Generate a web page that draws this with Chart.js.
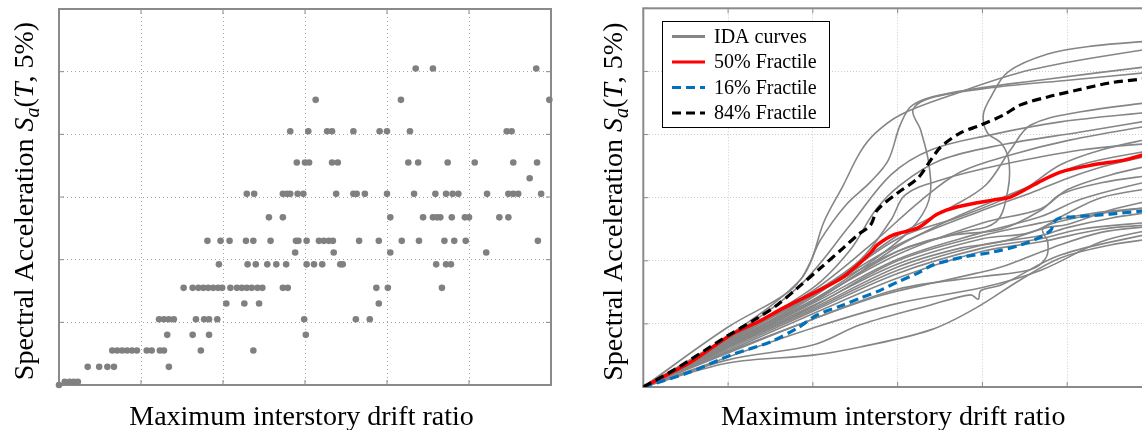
<!DOCTYPE html>
<html>
<head>
<meta charset="utf-8">
<title>IDA results</title>
<script src="https://cdn.jsdelivr.net/npm/chart.js@4.4.1/dist/chart.umd.min.js"></script>
<style>
  html, body { margin: 0; padding: 0; background: #fff; overflow: hidden; }
  body { position: relative; width: 1142px; height: 430px; }
  canvas { position: absolute; top: 0; }
  #pointsChart { left: 0; }
  #curvesChart { left: 580px; }
</style>
</head>
<body>
<canvas id="pointsChart" width="580" height="430"></canvas>
<canvas id="curvesChart" width="600" height="430"></canvas>
<script>
// axes (tick labels are not shown in the figure): drift in %, Sa in g
const driftTicks = [0, 1, 2, 3, 4, 5, 6];
const saTicks = [0, 0.2, 0.4, 0.6, 0.8, 1.0, 1.2];

// left panel: IDA points, drifts listed per Sa level
const saLevels = [0, 0.01, 0.058, 0.11, 0.16, 0.21, 0.26, 0.31, 0.385, 0.423, 0.46, 0.535, 0.61, 0.66, 0.71, 0.81, 0.91, 1.01];
const driftsAtLevel = [
  [0],
  [0.07, 0.13, 0.18, 0.23],
  [0.35, 0.49, 0.59, 0.67, 1.34],
  [0.65, 0.71, 0.77, 0.83, 0.89, 0.95, 1.07, 1.13, 1.23, 1.28, 1.73, 2.37],
  [1.32, 1.63, 1.83, 3.01],
  [1.22, 1.28, 1.34, 1.40, 1.67, 1.77, 1.83, 1.93, 2.99, 3.62, 3.79],
  [2.04, 2.26, 2.44, 3.90],
  [1.52, 1.63, 1.70, 1.76, 1.82, 1.88, 1.94, 1.99, 2.09, 2.17, 2.23, 2.29, 2.35, 2.42, 2.48, 2.73, 2.79, 3.87, 4.01, 4.67],
  [1.95, 2.30, 2.40, 2.54, 2.65, 2.77, 3.02, 3.11, 3.21, 3.43, 3.46, 4.60, 4.72, 4.78],
  [2.88, 3.35, 4.04, 5.21],
  [1.81, 1.97, 2.08, 2.28, 2.37, 2.58, 2.89, 2.92, 3.02, 3.17, 3.23, 3.29, 3.34, 3.66, 3.90, 4.18, 4.39, 4.70, 4.82, 4.96, 5.84],
  [2.56, 2.73, 4.04, 4.44, 4.56, 4.61, 4.65, 4.79, 4.95, 5.00, 5.37, 5.48],
  [2.29, 2.38, 2.73, 2.78, 2.82, 2.91, 2.98, 3.38, 3.59, 3.63, 3.73, 4.00, 4.33, 4.59, 4.72, 4.80, 4.87, 5.22, 5.48, 5.54, 5.60, 5.88],
  [5.74],
  [2.90, 3.00, 3.05, 3.33, 3.40, 4.26, 4.38, 4.74, 5.07, 5.54, 5.83],
  [2.82, 3.04, 3.27, 3.33, 3.59, 3.91, 4.00, 4.28, 5.46, 5.52],
  [3.13, 4.17, 5.98],
  [4.35, 4.56, 5.82]
];

// right panel: IDA curves, [drift %, Sa]
const ida01 = [[0,0],[1.0,0.143],[2.0,0.292],[3.0,0.430],[3.74,0.490],[4.16,0.523],[4.30,0.624],[4.31,0.719],[4.22,0.773],[4.06,0.805],[4.01,0.862],[4.10,0.919],[4.30,0.998],[4.77,1.055],[5.31,1.081],[6.01,1.097]];
const ida02 = [[0,0],[1.0,0.190],[1.74,0.307],[1.97,0.396],[2.13,0.523],[2.36,0.640],[2.56,0.745],[2.74,0.805],[3.03,0.862],[3.57,0.919],[4.57,1.005],[6.01,1.074]];
const ida03 = [[0,0],[1.0,0.162],[1.85,0.339],[2.09,0.466],[2.39,0.577],[2.68,0.650],[2.89,0.719],[3.03,0.830],[3.18,0.894],[3.63,0.932],[4.69,0.973],[6.01,1.017]];
const ida04 = [[0,0],[1.0,0.133],[2.0,0.276],[2.68,0.396],[3.15,0.498],[3.37,0.593],[3.37,0.704],[3.27,0.815],[3.18,0.878],[3.39,0.916],[4.10,0.948],[5.04,0.973],[6.01,0.998]];
const ida05 = [[0,0],[1.0,0.139],[2.0,0.290],[3.0,0.480],[3.63,0.570],[4.04,0.640],[4.33,0.751],[4.57,0.830],[5.16,0.872],[6.01,0.903]];
const ida06 = [[0,0],[1.0,0.155],[1.85,0.323],[2.44,0.513],[2.92,0.672],[3.39,0.751],[4.10,0.799],[4.92,0.840],[6.01,0.872]];
const ida07 = [[0,0],[1.0,0.149],[2.0,0.305],[2.68,0.450],[3.27,0.590],[3.74,0.681],[4.33,0.735],[5.04,0.783],[6.01,0.830]];
const ida08 = [[0,0],[1.0,0.135],[2.0,0.285],[3.0,0.470],[3.74,0.540],[4.45,0.620],[4.92,0.704],[5.40,0.751],[6.01,0.789]];
const ida09 = [[0,0],[1.0,0.150],[2.0,0.290],[3.0,0.450],[4.0,0.560],[4.57,0.615],[5.04,0.665],[5.51,0.705],[6.01,0.735]];
const ida10 = [[0,0],[1.0,0.140],[2.0,0.275],[3.0,0.420],[4.0,0.520],[4.69,0.565],[5.0,0.625],[5.51,0.672],[6.01,0.704]];
const ida11 = [[0,0],[1.0,0.135],[2.0,0.265],[3.0,0.405],[4.0,0.490],[4.69,0.540],[5.16,0.595],[6.01,0.656]];
const ida12 = [[0,0],[1.0,0.130],[2.0,0.258],[3.0,0.390],[4.0,0.470],[4.57,0.490],[5.0,0.550],[5.40,0.600],[6.01,0.631]];
const ida13 = [[0,0],[1.0,0.128],[2.0,0.250],[3.0,0.380],[3.74,0.440],[4.22,0.460],[4.75,0.505],[5.0,0.515],[5.51,0.561],[6.01,0.593]];
const ida14 = [[0,0],[1.0,0.125],[2.0,0.245],[3.0,0.370],[4.0,0.450],[4.69,0.480],[5.0,0.505],[5.51,0.535],[6.01,0.555]];
const ida15 = [[0,0],[1.0,0.120],[2.0,0.240],[3.0,0.360],[4.0,0.440],[4.69,0.470],[5.16,0.500],[6.01,0.523]];
const ida16 = [[0,0],[1.0,0.112],[2.0,0.215],[3.0,0.310],[4.0,0.350],[4.57,0.372],[4.75,0.410],[4.77,0.460],[4.71,0.500],[4.92,0.525],[5.40,0.550],[6.01,0.570]];
const ida17 = [[0,0],[1.0,0.115],[2.0,0.232],[3.0,0.345],[4.0,0.430],[4.69,0.460],[5.40,0.500],[6.01,0.515]];
const ida18 = [[0,0],[1.0,0.108],[2.0,0.215],[2.80,0.290],[3.51,0.335],[3.92,0.360],[4.22,0.380],[4.81,0.440],[5.40,0.490],[6.01,0.510]];
const ida19 = [[0,0],[1.0,0.095],[2.0,0.187],[3.0,0.265],[4.0,0.315],[4.69,0.370],[5.40,0.460],[6.01,0.500]];
const ida20 = [[0,0],[1.0,0.086],[2.0,0.133],[2.56,0.197],[3.39,0.260],[3.86,0.292],[3.95,0.278],[3.98,0.305],[4.22,0.323],[4.92,0.418],[6.01,0.488]];
const ida21 = [[0,0],[1.0,0.076],[2.0,0.101],[2.56,0.127],[3.39,0.181],[3.92,0.250],[4.45,0.340],[4.92,0.409],[5.51,0.450],[6.01,0.470]];
const ida22 = [[0,0],[1.0,0.125],[2.0,0.255],[3.0,0.400],[4.0,0.480],[4.69,0.520],[5.28,0.550],[6.01,0.570]];
const ida23 = [[0,0],[1.0,0.132],[2.0,0.270],[3.0,0.430],[3.63,0.480],[4.22,0.500],[4.69,0.560],[4.92,0.610],[5.40,0.647],[6.01,0.672]];
const ida24 = [[0,0],[1.0,0.130],[2.0,0.269],[2.56,0.365],[3.03,0.450],[3.74,0.545],[4.45,0.624],[5.16,0.704],[6.01,0.751]];
const ida25 = [[0,0],[1.0,0.146],[2.0,0.298],[2.56,0.403],[2.92,0.529],[3.09,0.609],[3.51,0.656],[4.22,0.704],[5.16,0.751],[6.01,0.773]];
const ida26 = [[0,0],[1.0,0.152],[2.0,0.314],[2.44,0.434],[2.74,0.561],[3.03,0.640],[3.51,0.719],[4.22,0.767],[5.16,0.808],[6.01,0.846]];

const frac50 = [[0,0],[0.56,0.079],[1.03,0.165],[1.35,0.206],[1.65,0.250],[1.89,0.282],[2.13,0.314],[2.36,0.349],[2.53,0.387],[2.68,0.425],[2.76,0.450],[2.95,0.482],[3.24,0.504],[3.47,0.548],[3.71,0.571],[4.13,0.593],[4.33,0.602],[4.65,0.647],[4.92,0.681],[5.31,0.704],[5.67,0.719],[5.89,0.735],[6.01,0.745]];
const frac16 = [[0,0],[0.56,0.048],[1.03,0.101],[1.50,0.143],[1.82,0.187],[2.05,0.228],[2.36,0.260],[2.56,0.282],[2.80,0.307],[3.00,0.333],[3.24,0.361],[3.42,0.387],[3.78,0.412],[4.13,0.428],[4.45,0.450],[4.69,0.476],[4.81,0.498],[4.84,0.523],[4.92,0.536],[5.08,0.539],[5.51,0.548],[5.89,0.558],[6.01,0.561]];
const frac84 = [[0,0],[0.40,0.060],[0.95,0.155],[1.35,0.219],[1.58,0.260],[1.82,0.314],[2.09,0.377],[2.36,0.441],[2.53,0.482],[2.68,0.513],[2.76,0.561],[3.00,0.615],[3.24,0.662],[3.39,0.719],[3.51,0.761],[3.74,0.805],[3.98,0.830],[4.25,0.862],[4.45,0.894],[4.77,0.919],[5.12,0.941],[5.51,0.964],[5.89,0.976],[6.01,0.979]];

const idaCurves = [ida01, ida02, ida03, ida04, ida05, ida06, ida07, ida08, ida09, ida10, ida11, ida12, ida13,
  ida14, ida15, ida16, ida17, ida18, ida19, ida20, ida21, ida22, ida23, ida24, ida25, ida26];

const serif = '"Liberation Serif", "Times New Roman", serif';
const xTitle = 'Maximum interstory drift ratio';
const yTitleParts = [
  { text: 'Spectral Acceleration ', font: '28px ' + serif },
  { text: 'S', font: 'italic 28px ' + serif },
  { text: 'a', font: 'italic 20px ' + serif, dy: 6 },
  { text: '(', font: '28px ' + serif },
  { text: 'T', font: 'italic 28px ' + serif },
  { text: ', 5%)', font: '28px ' + serif }
];

const toXY = pts => pts.map(([x, y]) => ({ x, y }));

// matlab-like box with inward ticks
const boxAndTicks = {
  id: 'boxAndTicks',
  beforeDatasetsDraw(chart, args, opts) {
    const { ctx, chartArea: a, scales: { x, y } } = chart;
    ctx.save();
    ctx.strokeStyle = opts.color;
    ctx.lineWidth = 1;
    ctx.beginPath();
    x.ticks.forEach(t => {
      const p = x.getPixelForValue(t.value);
      ctx.moveTo(p, a.bottom); ctx.lineTo(p, a.bottom - 5);
      ctx.moveTo(p, a.top); ctx.lineTo(p, a.top + 5);
    });
    y.ticks.forEach(t => {
      const p = y.getPixelForValue(t.value);
      ctx.moveTo(a.left, p); ctx.lineTo(a.left + 5, p);
      ctx.moveTo(a.right, p); ctx.lineTo(a.right - 5, p);
    });
    ctx.stroke();
    ctx.lineWidth = 2;
    ctx.strokeRect(a.left, a.top, a.right - a.left, a.bottom - a.top);
    ctx.restore();
  }
};

const axisTitles = {
  id: 'axisTitles',
  afterDraw(chart, args, opts) {
    const { ctx, chartArea: a } = chart;
    ctx.save();
    ctx.fillStyle = '#000';
    ctx.textBaseline = 'alphabetic';
    ctx.textAlign = 'center';
    ctx.font = '28px ' + serif;
    ctx.fillText(xTitle, (a.left + a.right) / 2 + opts.xShift, opts.xBaseline);

    ctx.translate(a.left - opts.yGap, (a.top + a.bottom) / 2 + opts.yShift);
    ctx.rotate(-Math.PI / 2);
    ctx.textAlign = 'left';
    let total = 0;
    yTitleParts.forEach(p => { ctx.font = p.font; total += ctx.measureText(p.text).width; });
    let cx = -total / 2;
    yTitleParts.forEach(p => {
      ctx.font = p.font;
      ctx.fillText(p.text, cx, p.dy || 0);
      cx += ctx.measureText(p.text).width;
    });
    ctx.restore();
  }
};

const boxedLegend = {
  id: 'boxedLegend',
  afterDraw(chart, args, opts) {
    const { ctx, chartArea: a } = chart;
    const items = chart.data.datasets.filter(ds => ds.legendEntry);
    const bx = Math.round(a.left + opts.offsetX), by = Math.round(a.top + opts.offsetY);
    ctx.save();
    ctx.fillStyle = '#fff';
    ctx.fillRect(bx, by, opts.width, opts.height);
    ctx.strokeStyle = '#000';
    ctx.lineWidth = 1;
    ctx.strokeRect(bx + 0.5, by + 0.5, opts.width, opts.height);
    ctx.font = '20px ' + serif;
    ctx.textBaseline = 'middle';
    items.forEach((ds, i) => {
      const ly = by + 15.5 + i * 25.5;
      ctx.strokeStyle = ds.borderColor;
      ctx.lineWidth = 3;
      ctx.setLineDash(ds.borderDash || []);
      ctx.beginPath();
      ctx.moveTo(bx + 10, ly);
      ctx.lineTo(bx + 43, ly);
      ctx.stroke();
      ctx.setLineDash([]);
      ctx.fillStyle = '#000';
      ctx.fillText(ds.label, bx + 52, ly + 1);
    });
    ctx.restore();
  }
};

function makeScales(gridColor, dash) {
  const grid = { color: gridColor, lineWidth: 1, drawTicks: false };
  const border = { display: false, dash: dash };
  return {
    x: {
      type: 'linear', min: driftTicks[0], max: driftTicks[driftTicks.length - 1],
      ticks: { display: false, stepSize: driftTicks[1] - driftTicks[0] },
      grid: grid, border: border
    },
    y: {
      type: 'linear', min: saTicks[0], max: saTicks[saTicks.length - 1],
      ticks: { display: false, stepSize: saTicks[1] - saTicks[0] },
      grid: grid, border: border
    }
  };
}

const idaPoints = saLevels.flatMap((sa, i) => driftsAtLevel[i].map(d => ({ x: d, y: sa })));

const pointsConfig = {
  type: 'scatter',
  data: {
    datasets: [{
      label: 'IDA points',
      data: idaPoints,
      pointRadius: 3.3,
      pointBackgroundColor: '#808080',
      pointBorderWidth: 0,
      clip: false
    }]
  },
  options: {
    responsive: false,
    animation: false,
    devicePixelRatio: 1,
    events: [],
    layout: { padding: { left: 59, top: 9, right: 29, bottom: 45 } },
    scales: makeScales('#a6a6a6', [1, 3]),
    plugins: {
      legend: { display: false },
      tooltip: { enabled: false },
      boxAndTicks: { color: '#8a8a8a' },
      axisTitles: { xShift: -3.5, xBaseline: 425, yGap: 26, yShift: 4 }
    }
  },
  plugins: [boxAndTicks, axisTitles]
};

const lineStyle = { showLine: true, pointRadius: 0, fill: false };

const curveDatasets = idaCurves.map((c, i) => Object.assign({
  label: 'IDA curves',
  legendEntry: i === 0,
  data: toXY(c),
  borderColor: '#868686',
  borderWidth: 1.6,
  tension: 0.35,
  order: 10
}, lineStyle));

const curvesConfig = {
  type: 'scatter',
  data: {
    datasets: curveDatasets.concat([
      Object.assign({ label: '50% Fractile', legendEntry: true, data: toXY(frac50),
        borderColor: '#ff0000', borderWidth: 3.5, tension: 0.3, order: 3 }, lineStyle),
      Object.assign({ label: '16% Fractile', legendEntry: true, data: toXY(frac16),
        borderColor: '#0072bd', borderWidth: 3.2, borderDash: [9, 5], tension: 0.3, order: 2 }, lineStyle),
      Object.assign({ label: '84% Fractile', legendEntry: true, data: toXY(frac84),
        borderColor: '#000000', borderWidth: 3.2, borderDash: [9, 5], tension: 0.3, order: 1 }, lineStyle)
    ])
  },
  options: {
    responsive: false,
    animation: false,
    devicePixelRatio: 1,
    events: [],
    layout: { padding: { left: 63.3, top: 8.3, right: 28, bottom: 43 } },
    scales: makeScales('#cccccc', [1, 2]),
    plugins: {
      legend: { display: false },
      tooltip: { enabled: false },
      boxAndTicks: { color: '#8a8a8a' },
      axisTitles: { xShift: -4.5, xBaseline: 425, yGap: 21.5, yShift: 4 },
      boxedLegend: { offsetX: 18.7, offsetY: 12.4, width: 167, height: 106 }
    }
  },
  plugins: [boxAndTicks, axisTitles, boxedLegend]
};

const pointsChart = new Chart(document.getElementById('pointsChart'), pointsConfig);
const curvesChart = new Chart(document.getElementById('curvesChart'), curvesConfig);
</script>
</body>
</html>
